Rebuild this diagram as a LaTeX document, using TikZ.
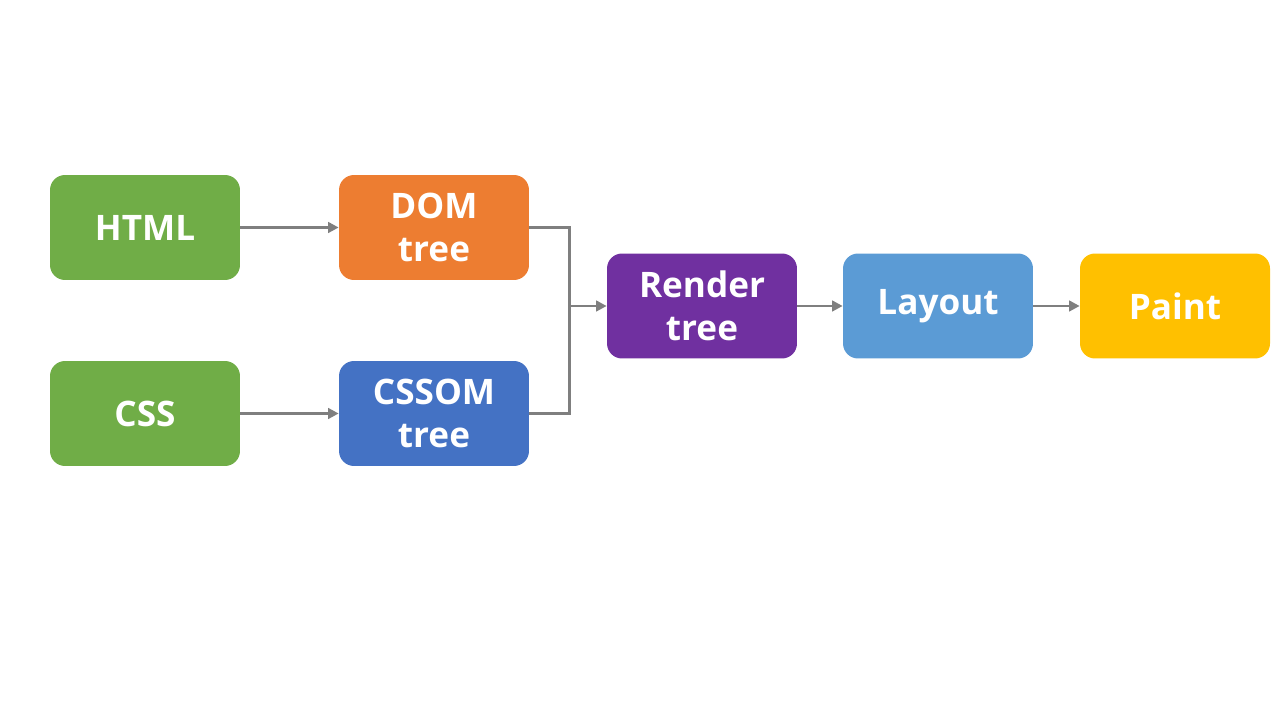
\documentclass[tikz,border=0pt]{standalone}
\usepackage{fontspec}
\setmainfont{Open Sans}
\usetikzlibrary{arrows.meta}
\definecolor{htmlgreen}{HTML}{70AD47}
\definecolor{domorange}{HTML}{ED7D31}
\definecolor{cssomblue}{HTML}{4472C4}
\definecolor{renderpurple}{HTML}{7030A0}
\definecolor{layoutblue}{HTML}{5B9BD5}
\definecolor{paintgold}{HTML}{FFC000}
\definecolor{linkgray}{HTML}{7F7F7F}
\begin{document}
\begin{tikzpicture}[x=0.02cm,y=0.02cm,
    stage/.style={rectangle,rounded corners=0.3cm,minimum width=3.8cm,minimum height=2.1cm,
        text=white,font=\bfseries\fontsize{20}{24.5}\selectfont,align=center,inner sep=0pt},
    link/.style={draw=linkgray,line width=1.7pt,-{Triangle[length=6pt,width=6pt]}}]
        \useasboundingbox (0,0) rectangle (1280,720);
        %% Sources
        \node[stage,fill=htmlgreen] (html) at (145,492.5) {HTML};
        \node[stage,fill=htmlgreen] (css) at (145,306.5) {CSS};
        %% Trees
        \node[stage,fill=domorange] (dom) at (434,492.5) {DOM\\tree};
        \node[stage,fill=cssomblue] (cssom) at (434,306.5) {CSSOM\\tree};
        %% Pipeline
        \node[stage,fill=renderpurple] (render) at (702,414) {Render\\tree};
        \node[stage,fill=layoutblue] (layout) at (938,414) {Layout};
        \node[stage,fill=paintgold] (paint) at (1175,414) {Paint};
        %% Arrows
        \coordinate (join) at (569,414);
        \draw[link] (html) -- (dom);
        \draw[link] (css) -- (cssom);
        \draw[draw=linkgray,line width=1.7pt] (dom.east) -| (join);
        \draw[draw=linkgray,line width=1.7pt] (cssom.east) -| (join);
        \draw[link] (join) -- (render.west);
        \draw[link] (render) -- (layout);
        \draw[link] (layout) -- (paint);
    \end{tikzpicture}
\end{document}
